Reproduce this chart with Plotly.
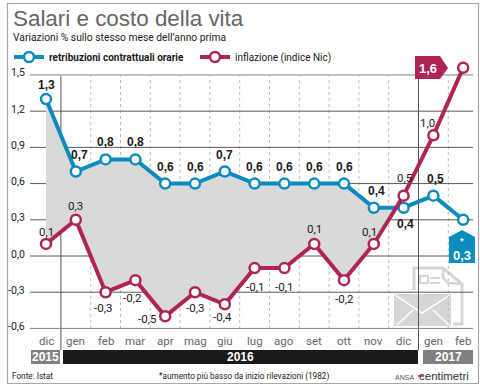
import plotly.graph_objects as go

months = ["dic","gen","feb","mar","apr","mag","giu","lug","ago","set","ott","nov","dic","gen","feb"]
retribuzioni = [1.3,0.7,0.8,0.8,0.6,0.6,0.7,0.6,0.6,0.6,0.6,0.4,0.4,0.5,0.3]
inflazione = [0.1,0.3,-0.3,-0.2,-0.5,-0.3,-0.4,-0.1,-0.1,0.1,-0.2,0.1,0.5,1.0,1.56]
retrib_labels = ["1,3","0,7","0,8","0,8","0,6","0,6","0,7","0,6","0,6","0,6","0,6","0,4","0,4","0,5",""]
infl_labels = ["0,1","0,3","-0,3","-0,2","-0,5","-0,3","-0,4","-0,1","-0,1","0,1","-0,2","0,1","0,5","1,0",""]
y_ticks = [1.5,1.2,0.9,0.6,0.3,0.0,-0.3,-0.6]
y_tick_labels = ["1,5","1,2","0,9","0,6","0,3","0,0","-0,3","-0,6"]
years = ["2015","2016","2017"]

BLUE = "#0B8BBE"; RED = "#AE2457"; NARROW = "Roboto"; SANS = "Liberation Sans"
L, R, T, B = 30, 473, 59, 330
W, H = 480, 390
px = lambda x: (x - L) / (R - L)
py = lambda y: (B - y) / (B - T)

idx = list(range(len(months)))
fig = go.Figure()

# grey band between the two series, up to where they cross
cross = next(i for i in idx[:-1] if inflazione[i] < retribuzioni[i] and inflazione[i+1] >= retribuzioni[i+1])
d0 = retribuzioni[cross] - inflazione[cross]
d1 = retribuzioni[cross+1] - inflazione[cross+1]
t = d0 / (d0 - d1)
xc = cross + t
yc = retribuzioni[cross] + t * (retribuzioni[cross+1] - retribuzioni[cross])
fx = idx[:cross+1] + [xc] + idx[:cross+1][::-1]
fy = retribuzioni[:cross+1] + [yc] + inflazione[:cross+1][::-1]
fig.add_trace(go.Scatter(x=fx, y=fy, fill="toself", fillcolor="#D9D9D9", mode="none",
                         showlegend=False, hoverinfo="skip"))
fig.add_trace(go.Scatter(x=idx, y=retribuzioni, mode="lines+markers", cliponaxis=False,
                         name="<b>retribuzioni contrattuali orarie</b>",
                         line=dict(color=BLUE, width=4),
                         marker=dict(size=10, color="white", line=dict(color=BLUE, width=2.5))))
fig.add_trace(go.Scatter(x=idx, y=inflazione, mode="lines+markers", cliponaxis=False,
                         name="inflazione (indice Nic)",
                         line=dict(color=RED, width=4),
                         marker=dict(size=10, color="white", line=dict(color=RED, width=2.5))))

shapes = []
# frame
shapes.append(dict(type="rect", xref="paper", yref="paper", x0=px(7.5), x1=px(478.5), y0=py(383.5), y1=py(3.5),
                   line=dict(color="#A8A8A8", width=1.2), layer="below"))
# icon (behind rules and series)
ICON = "#D6D6D6"
def path(points):
    return "M " + " L ".join(f"{px(x):.4f},{py(y):.4f}" for x, y in points)
def icon_path(points, width=3, color=ICON):
    shapes.append(dict(type="path", xref="paper", yref="paper", layer="below",
                       path=path(points), line=dict(color=color, width=width)))
icon_path([(414,290),(414,268),(443,268),(462,284),(462,324),(453,324)])
icon_path([(443,268),(443,278),(448,283),(462,284)], width=2.5)
shapes.append(dict(type="rect", xref="paper", yref="paper", layer="below", x0=px(420), x1=px(428),
                   y0=py(283), y1=py(276), line=dict(color=ICON, width=2)))
icon_path([(430,278),(440,278)], width=2)
icon_path([(430,283),(440,283)], width=2)
shapes.append(dict(type="rect", xref="paper", yref="paper", layer="below", x0=px(394), x1=px(451),
                   y0=py(326), y1=py(294), fillcolor=ICON, line_width=0))
icon_path([(395,295),(422,313),(450,295)], width=1.5, color="white")
icon_path([(397,325),(413,310)], width=1.5, color="white")
icon_path([(449,325),(433,310)], width=1.5, color="white")
# month dividers
for i in range(1, 15):
    solid = i in (1, 13)
    shapes.append(dict(type="line", xref="x", yref="paper", x0=i-0.5, x1=i-0.5, y0=py(350 if solid else 329), y1=py(76),
                       line=dict(color="#555555" if solid else "#BDBDBD", width=1, dash="solid" if solid else "dot"),
                       layer="below"))
# horizontal rules
for v in y_ticks:
    shapes.append(dict(type="line", xref="paper", yref="y", x0=0, x1=1, y0=v, y1=v,
                       line=dict(color="#5A5A5A" if v not in (1.5, -0.6) else "#808080", width=1), layer="below"))
# year bars
year_spans = [(31, 60), (63, 418), (423, 473)]
year_cols = ["#808080", "#1A1A1A", "#808080"]
for (a, b), c in zip(year_spans, year_cols):
    shapes.append(dict(type="rect", xref="paper", yref="paper", x0=px(a), x1=px(b), y0=py(364), y1=py(350),
                       fillcolor=c, line_width=0, layer="above"))
# badges
shapes.append(dict(type="path", xref="paper", yref="paper", layer="above", fillcolor=RED, line_width=0,
                   path=path([(415,56),(440,56),(448,68),(440,79),(415,79)]) + " Z"))
shapes.append(dict(type="path", xref="paper", yref="paper", layer="above", fillcolor=BLUE, line_width=0,
                   path=path([(449,237),(462,230),(475,237),(475,263),(449,263)]) + " Z"))
# red stroke of the logo
shapes.append(dict(type="line", xref="paper", yref="paper", layer="above", x0=px(418), x1=px(424), y0=py(376), y1=py(376),
                   line=dict(color="#D8232A", width=1.5)))

ann = []
def text(x, y, s, size=11, color="#222222", font=NARROW, anchor="center", bold=False):
    ann.append(dict(xref="paper", yref="paper", x=px(x), y=py(y), text=f"<b>{s}</b>" if bold else s,
                    showarrow=False, xanchor=anchor, yanchor="middle",
                    font=dict(size=size, color=color, family=font), borderpad=0, borderwidth=0))

text(13, 18, "Salari e costo della vita", size=22.4, color="#666666", font=SANS, anchor="left")
text(13, 38, "Variazioni % sullo stesso mese dell’anno prima", size=10.3, font=NARROW, anchor="left")

# y tick labels
for v, s in zip(y_ticks, y_tick_labels):
    ann.append(dict(xref="paper", yref="y", x=px(27), y=v, yshift=2, text=s, showarrow=False, xanchor="right", yanchor="middle",
                    font=dict(size=10.5, color="#222222", family=NARROW)))
# month labels
for i, m in enumerate(months):
    ann.append(dict(xref="x", yref="paper", x=i, y=py(341), text=m, showarrow=False, xanchor="center", yanchor="middle",
                    font=dict(size=11.5, color="#666666", family=NARROW)))
# year labels
for (a, b), y in zip(year_spans, years):
    ann.append(dict(xref="paper", yref="paper", x=px((a+b)/2), y=py(357), text=f"<b>{y}</b>", showarrow=False,
                    xanchor="center", yanchor="middle", font=dict(size=12, color="white", family=SANS)))

# series labels
r_off = [(0,14),(4,17),(0,17),(0,17),(0,17),(0,17),(0,17),(0,17),(0,17),(0,17),(0,17),(3,17),(2,-16),(2,17),(0,0)]
i_off = [(0,12),(0,14),(-3,-16),(-3,-18),(-18,-3),(0,-16),(-2,-13),(0,-19),(0,-19),(0,15),(0,-19),(-4,12),(1,18),(-6,12),(0,0)]
for i in idx:
    if retrib_labels[i]:
        ann.append(dict(xref="x", yref="y", x=i, y=retribuzioni[i], xshift=r_off[i][0], yshift=r_off[i][1],
                        text=f"<b>{retrib_labels[i]}</b>", showarrow=False,
                        font=dict(size=12, color="#1A1A1A", family=SANS)))
    if infl_labels[i]:
        ann.append(dict(xref="x", yref="y", x=i, y=inflazione[i], xshift=i_off[i][0], yshift=i_off[i][1],
                        text=infl_labels[i], showarrow=False,
                        font=dict(size=11.5, color="#1A1A1A", family=NARROW)))
text(428, 68, "1,6", size=13, color="white", font=SANS, bold=True)
text(462, 241, "*", size=9, color="white", font=SANS, bold=True)
text(462, 255, "0,3", size=13, color="white", font=SANS, bold=True)

text(12, 376, "Fonte: Istat", size=8.2, font=NARROW, anchor="left")
text(159, 376, "*aumento più basso da inizio rilevazioni (1982)", size=8.2, font=NARROW, anchor="left")
text(395, 377, "ANSA", size=7, color="#555555", font=SANS, anchor="left")
text(419, 376, "centimetri", size=11.5, color="#333333", font=SANS, anchor="left")

fig.update_layout(
    width=W, height=H, margin=dict(l=L, r=W-R, t=T, b=H-B, pad=0, autoexpand=False),
    paper_bgcolor="white", plot_bgcolor="rgba(0,0,0,0)",
    xaxis=dict(range=[(L-46)/29.8, (R-46)/29.8], showgrid=False, zeroline=False, showticklabels=False, ticks="", fixedrange=True),
    yaxis=dict(range=[(256-B)/120.7, (256-T)/120.7], showgrid=False, zeroline=False, showticklabels=False, ticks="", fixedrange=True),
    showlegend=True,
    legend=dict(orientation="h", x=px(9), y=py(57), xanchor="left", yanchor="middle", bgcolor="rgba(0,0,0,0)",
                font=dict(size=10, family=NARROW, color="#1A1A1A"), itemwidth=30,
                entrywidth=141, entrywidthmode="pixels"),
    shapes=shapes, annotations=ann,
)
fig.write_html("out.html", config={"displayModeBar": False},
               post_script="document.body.style.margin='0';document.documentElement.style.overflow='hidden';")
